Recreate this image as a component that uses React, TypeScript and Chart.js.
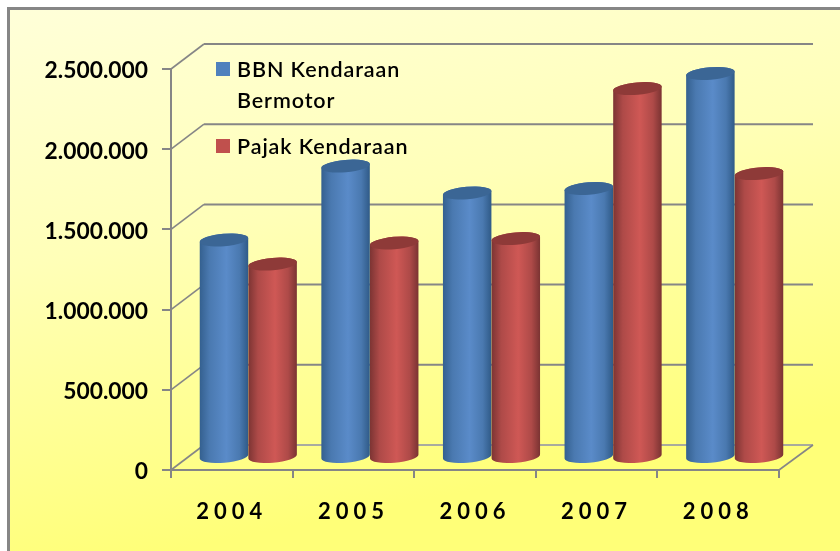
import React, { useEffect, useRef } from "react";
import { Chart, registerables } from "chart.js";

Chart.register(...registerables);

const years = ["2004", "2005", "2006", "2007", "2008"];
const bbnLabel = ["BBN Kendaraan", "Bermotor"];
const pajakLabel = ["Pajak Kendaraan"];
const bbnValues = [1356000, 1817000, 1649000, 1677000, 2394000];
const pajakValues = [1206000, 1337000, 1365000, 2300000, 1770000];

const FONT = "Lato, Carlito, 'Open Sans', sans-serif";
const DEPTH_X = 33;
const DEPTH_Y = 25;
const AXIS = "#868686";

const bluePalette = { edgeL: "#34608f", band: "#4a79b0", mid: "#5a8bc9", edgeR: "#2f5a87", top: "#3b6695" };
const redPalette = { edgeL: "#7c3433", band: "#ae4a48", mid: "#cf5855", edgeR: "#7a3332", top: "#8e3a38" };

function cylinder(ctx: CanvasRenderingContext2D, cx: number, yTop: number, yBase: number, w: number, p: typeof bluePalette) {
  const rx = w / 2;
  const ry = 6.2;
  const rot = -0.085;
  const dx = rx * Math.cos(rot);
  const dy = rx * Math.sin(rot);
  const g = ctx.createLinearGradient(cx - rx, 0, cx + rx, 0);
  g.addColorStop(0, p.edgeL);
  g.addColorStop(0.2, p.band);
  g.addColorStop(0.55, p.mid);
  g.addColorStop(0.82, p.band);
  g.addColorStop(1, p.edgeR);
  ctx.save();
  ctx.beginPath();
  ctx.moveTo(cx - dx, yTop - dy);
  ctx.lineTo(cx - dx, yBase - dy);
  ctx.ellipse(cx, yBase, rx, ry, rot, Math.PI, 0, true);
  ctx.lineTo(cx + dx, yTop + dy);
  ctx.ellipse(cx, yTop, rx, ry, rot, 0, Math.PI, true);
  ctx.closePath();
  ctx.fillStyle = g;
  ctx.fill();
  ctx.beginPath();
  ctx.ellipse(cx, yTop, rx, ry, rot, 0, Math.PI * 2);
  ctx.fillStyle = p.top;
  ctx.fill();
  ctx.restore();
}

const scenePlugin = {
  id: "scene",
  beforeDraw(chart: any) {
    const { ctx, width, height } = chart;
    ctx.save();
    ctx.fillStyle = "#ffffff";
    ctx.fillRect(0, 0, width, height);
    const g = ctx.createLinearGradient(60, 0, 170, height);
    g.addColorStop(0, "#ffffd9");
    g.addColorStop(0.45, "#ffffb8");
    g.addColorStop(1, "#ffff78");
    ctx.fillStyle = g;
    ctx.fillRect(8, 8, width, height);
    ctx.strokeStyle = AXIS;
    ctx.lineWidth = 3;
    ctx.beginPath();
    ctx.moveTo(8.5, height + 2);
    ctx.lineTo(8.5, 8.5);
    ctx.lineTo(width + 2, 8.5);
    ctx.stroke();
    ctx.restore();

    // spaced tick labels on the category axis, slightly lowered value labels
    const xs = chart.scales.x;
    if (!xs.__patched) {
      const orig = xs.drawLabels.bind(xs);
      xs.drawLabels = (a: any) => {
        ctx.save();
        (ctx as any).letterSpacing = "5px";
        orig(a);
        ctx.restore();
      };
      xs.__patched = true;
    }
    const ys = chart.scales.y;
    if (!ys.__patched) {
      const orig = ys.drawLabels.bind(ys);
      ys.drawLabels = (a: any) => {
        ctx.save();
        ctx.translate(0, 2);
        orig(a);
        ctx.restore();
      };
      ys.__patched = true;
    }
  },
  beforeDatasetsDraw(chart: any) {
    const { ctx, chartArea, scales } = chart;
    const ys = scales.y;
    const { left, right, bottom } = chartArea;
    ctx.save();
    ctx.lineJoin = "round";
    ys.ticks.forEach((t: any) => {
      const y = ys.getPixelForValue(t.value);
      ctx.strokeStyle = AXIS;
      ctx.lineWidth = 1.6;
      ctx.beginPath();
      ctx.moveTo(left, y);
      ctx.lineTo(left + DEPTH_X, y - DEPTH_Y);
      ctx.stroke();
      const floor = t.value === 0;
      ctx.strokeStyle = floor ? "#8c8fa8" : AXIS;
      ctx.lineWidth = floor ? 1.4 : 2;
      ctx.beginPath();
      ctx.moveTo(left + DEPTH_X, y - DEPTH_Y);
      ctx.lineTo(right + DEPTH_X + 1, y - DEPTH_Y);
      ctx.stroke();
    });
    ctx.strokeStyle = AXIS;
    ctx.lineWidth = 1.6;
    ctx.beginPath();
    ctx.moveTo(right, bottom);
    ctx.lineTo(right + DEPTH_X + 1, bottom - DEPTH_Y);
    ctx.stroke();
    ctx.restore();
  },
  beforeDatasetDraw() {
    return false;
  },
  afterDatasetsDraw(chart: any) {
    const { ctx } = chart;
    const palettes = [bluePalette, redPalette];
    years.forEach((_, i) => {
      [0, 1].forEach((d) => {
        const el = chart.getDatasetMeta(d).data[i];
        cylinder(ctx, el.x + DEPTH_X / 2, el.y - DEPTH_Y / 2, el.base - DEPTH_Y / 2, el.width, palettes[d]);
      });
    });

    // legend, from the dataset labels and colours
    ctx.save();
    ctx.font = `600 21.5px ${FONT}`;
    ctx.textBaseline = "alphabetic";
    (ctx as any).letterSpacing = "0.9px";
    const rows = [
      { top: 62, base: 77 },
      { top: 139, base: 154 },
    ];
    chart.data.datasets.forEach((ds: any, d: number) => {
      ctx.fillStyle = ds.backgroundColor;
      ctx.fillRect(216, rows[d].top, 14, 14);
      ctx.fillStyle = "#000000";
      (ds.labelLines as string[]).forEach((line, k) => ctx.fillText(line, 237, rows[d].base + k * 31));
    });
    ctx.restore();
  },
};

export default function App() {
  const ref = useRef<HTMLCanvasElement | null>(null);
  useEffect(() => {
    document.body.style.margin = "0";
    const chart = new Chart(ref.current as HTMLCanvasElement, {
      type: "bar",
      data: {
        labels: years,
        datasets: [
          { label: bbnLabel.join(" "), labelLines: bbnLabel, data: bbnValues, backgroundColor: "#4f81bd" } as any,
          { label: pajakLabel.join(" "), labelLines: pajakLabel, data: pajakValues, backgroundColor: "#c0504d" } as any,
        ],
      },
      options: {
        responsive: false,
        animation: false,
        layout: { padding: { left: 0, top: 69, right: 61, bottom: 21 } },
        plugins: { legend: { display: false }, tooltip: { enabled: false } },
        datasets: { bar: { categoryPercentage: 0.8, barPercentage: 1 } },
        scales: {
          x: {
            afterFit: (s: any) => { s.height = 60; },
            grid: { drawOnChartArea: false, color: AXIS, tickColor: AXIS, tickLength: 8, lineWidth: 2 },
            border: { color: AXIS, width: 2 },
            ticks: {
              color: "#000000",
              padding: 21,
              maxRotation: 0,
              autoSkip: false,
              font: { family: FONT, size: 22, weight: 700 },
            },
          },
          y: {
            min: 0,
            max: 2500000,
            afterFit: (s: any) => { s.width = 171; },
            grid: { drawOnChartArea: false, color: AXIS, tickColor: AXIS, tickLength: 9, lineWidth: 2 },
            border: { color: AXIS, width: 2 },
            ticks: {
              stepSize: 500000,
              color: "#000000",
              padding: 14,
              font: { family: FONT, size: 22.8, weight: 700 },
              callback: (v: any) => Number(v).toLocaleString("de-DE"),
            },
          },
        },
      },
      plugins: [scenePlugin as any],
    });
    return () => chart.destroy();
  }, []);
  return (
    <div style={{ width: 840, height: 551, overflow: "hidden" }}>
      <canvas ref={ref} width={840} height={551} style={{ display: "block", filter: "blur(0.45px)" }} />
    </div>
  );
}
